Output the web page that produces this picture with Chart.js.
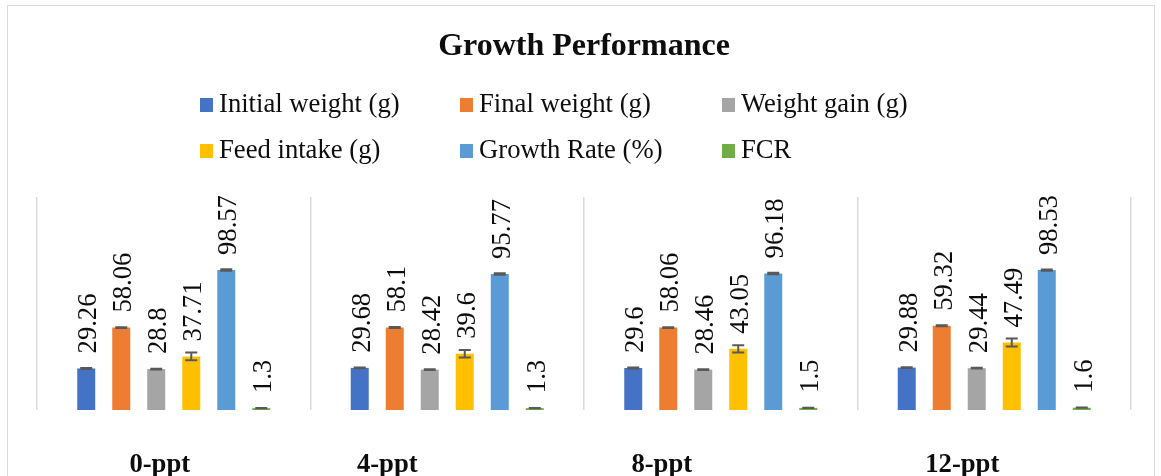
<!DOCTYPE html>
<html><head><meta charset="utf-8">
<script src="https://cdn.jsdelivr.net/npm/chart.js@4.4.0/dist/chart.umd.min.js"></script>
<style>
html,body{margin:0;padding:0;background:#fff;overflow:hidden;width:1161px;height:476px;}
#box{position:absolute;left:7px;top:5px;width:1148px;height:490px;border:1px solid #d9d9d9;box-sizing:border-box;background:#fff;}
#box canvas{display:block}
</style></head><body>
<div id="box"><canvas id="c"></canvas></div>
<script>
const categories = ['0-ppt', '4-ppt', '8-ppt', '12-ppt'];
const seriesNames = ['Initial weight (g)', 'Final weight (g)', 'Weight gain (g)', 'Feed intake (g)', 'Growth Rate (%)', 'FCR'];
const initialWeight = [29.26, 29.68, 29.6, 29.88];
const finalWeight = [58.06, 58.1, 58.06, 59.32];
const weightGain = [28.8, 28.42, 28.46, 29.44];
const feedIntake = [37.71, 39.6, 43.05, 47.49];
const growthRate = [98.57, 95.77, 96.18, 98.53];
const fcr = [1.3, 1.3, 1.5, 1.6];
const errInitialWeight = [0.3, 0.3, 0.3, 0.3];
const errFinalWeight = [0.3, 0.3, 0.3, 0.3];
const errWeightGain = [0.3, 0.3, 0.3, 0.3];
const errFeedIntake = [2.7, 2.6, 2.5, 2.8];
const errGrowthRate = [0.5, 0.5, 0.5, 0.5];
const errFcr = [0.1, 0.1, 0.1, 0.1];

const colors = ['#4472C4', '#ED7D31', '#A5A5A5', '#FFC000', '#5B9BD5', '#70AD47'];
const seriesValues = [initialWeight, finalWeight, weightGain, feedIntake, growthRate, fcr];
const seriesErrors = [errInitialWeight, errFinalWeight, errWeightGain, errFeedIntake, errGrowthRate, errFcr];

const FONT = '"Liberation Serif", "Times New Roman", serif';
const TXT = '#0d0d0d';

const errorBarPlugin = {
  id: 'errorBars',
  afterDatasetsDraw(chart) {
    const ctx = chart.ctx, y = chart.scales.y;
    ctx.save();
    ctx.strokeStyle = '#595959';
    ctx.lineWidth = 2;
    chart.data.datasets.forEach((ds, di) => {
      const meta = chart.getDatasetMeta(di);
      meta.data.forEach((el, i) => {
        const v = ds.data[i], e = ds.errors[i];
        const top = y.getPixelForValue(v + e), bot = y.getPixelForValue(v - e);
        const x = el.x, half = 6;
        ctx.beginPath();
        ctx.moveTo(x, top); ctx.lineTo(x, bot);
        ctx.moveTo(x - half, top); ctx.lineTo(x + half, top);
        ctx.moveTo(x - half, bot); ctx.lineTo(x + half, bot);
        ctx.stroke();
      });
    });
    ctx.restore();
  }
};

const labelPlugin = {
  id: 'valueLabels',
  afterDatasetsDraw(chart) {
    const ctx = chart.ctx;
    ctx.save();
    ctx.fillStyle = TXT;
    ctx.font = '26.67px ' + FONT;
    ctx.textAlign = 'left';
    ctx.textBaseline = 'middle';
    chart.data.datasets.forEach((ds, di) => {
      chart.getDatasetMeta(di).data.forEach((el, i) => {
        ctx.save();
        ctx.translate(el.x + 3, el.y - 15);
        ctx.rotate(-Math.PI / 2);
        ctx.fillText(String(ds.data[i]), 0, 0);
        ctx.restore();
      });
    });
    ctx.restore();
  }
};

const customLegend = {
  id: 'customLegend',
  afterDraw(chart, args, opts) {
    const ctx = chart.ctx;
    ctx.save();
    ctx.font = '26.67px ' + FONT;
    ctx.textBaseline = 'middle';
    ctx.textAlign = 'left';
    chart.data.datasets.forEach((ds, i) => {
      const col = i % opts.columns.length, row = Math.floor(i / opts.columns.length);
      const bx = opts.columns[col], cy = opts.rows[row];
      ctx.fillStyle = ds.backgroundColor;
      ctx.fillRect(bx, cy - 7, 13, 14);
      ctx.fillStyle = TXT;
      ctx.fillText(ds.label, bx + 19, cy);
    });
    ctx.restore();
  }
};

const categoryLabels = {
  id: 'categoryLabels',
  afterDraw(chart, args, opts) {
    const ctx = chart.ctx, xs = chart.scales.x;
    ctx.save();
    ctx.font = 'bold 26.67px ' + FONT;
    ctx.fillStyle = TXT;
    ctx.textAlign = 'center';
    ctx.textBaseline = 'middle';
    chart.data.labels.forEach((lab, i) => {
      ctx.fillText(lab, xs.getPixelForValue(i) + opts.shifts[i], chart.chartArea.bottom + opts.gap);
    });
    ctx.restore();
  }
};

new Chart(document.getElementById('c'), {
  type: 'bar',
  data: {
    labels: categories,
    datasets: seriesNames.map((name, k) => ({
      label: name,
      data: seriesValues[k],
      errors: seriesErrors[k],
      backgroundColor: colors[k],
      borderWidth: 0,
      categoryPercentage: 0.768,
      barPercentage: 0.514
    }))
  },
  options: {
    responsive: true,
    maintainAspectRatio: false,
    animation: false,
    events: [],
    layout: { padding: { left: 29, right: 23, top: 0, bottom: 84 } },
    scales: {
      x: {
        ticks: { display: false },
        grid: { display: true, offset: true, drawTicks: false, color: '#d9d9d9', lineWidth: 1.5 },
        border: { display: false }
      },
      y: { display: false, min: 0, max: 150 }
    },
    plugins: {
      legend: { display: false },
      tooltip: { enabled: false },
      title: {
        display: true,
        text: 'Growth Performance',
        color: TXT,
        font: { family: FONT, size: 32, weight: 'bold', lineHeight: 1.2 },
        padding: { top: 22, bottom: 130.6 }
      },
      customLegend: { columns: [192, 452, 714], rows: [99, 145] },
      categoryLabels: { shifts: [-14, -60, -59, -32], gap: 55 }
    }
  },
  plugins: [errorBarPlugin, labelPlugin, customLegend, categoryLabels]
});
</script>
</body></html>
